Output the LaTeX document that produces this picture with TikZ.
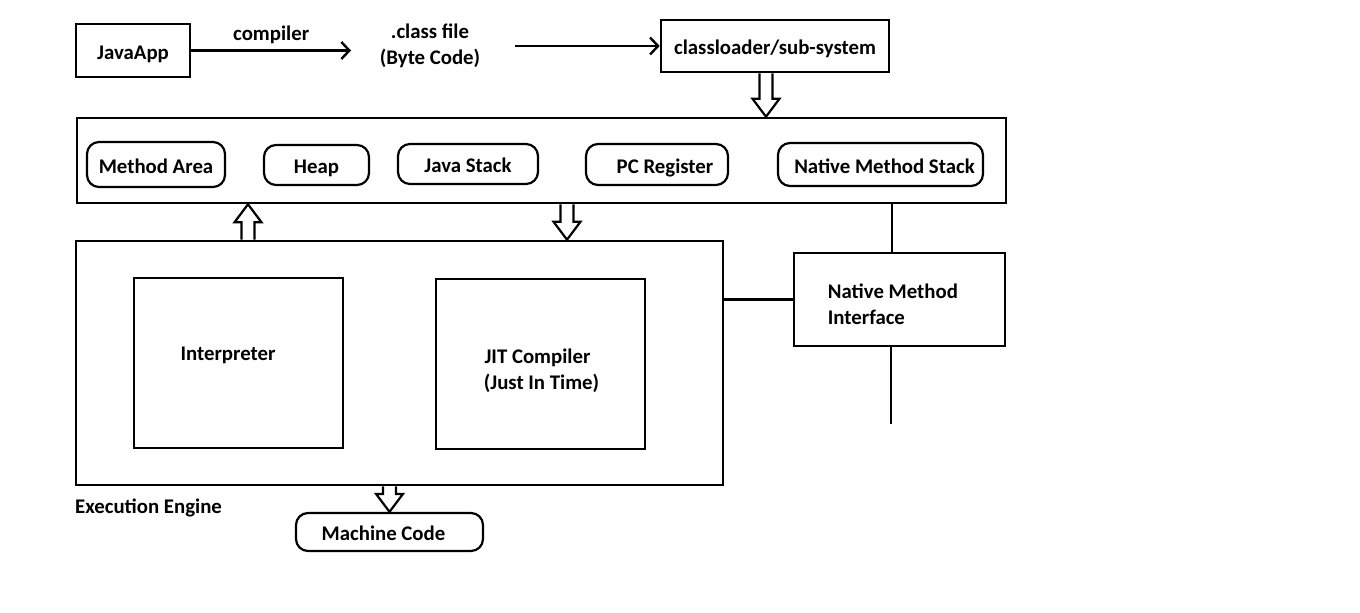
\documentclass[tikz,border=0pt]{standalone}
\usepackage{fontspec}
\setmainfont{Carlito}
\usetikzlibrary{arrows.meta, positioning, calc}

\newcommand{\diagfont}{\fontsize{20.8}{26}\selectfont\bfseries}
% hollow block arrow between two points on one vertical line
\newcommand{\fatarrow}[2]{%
  \draw[line width=2.2pt, line join=miter]
    let \p1=#1, \p2=#2, \n1={ifthenelse(\y2>\y1,1,-1)} in
    (\x1-6.5pt,\y1) -- (\x1-6.5pt,\y2-\n1*18pt) -- (\x1-13.5pt,\y2-\n1*18pt)
    -- (\x2,\y2) -- (\x1+13.5pt,\y2-\n1*18pt) -- (\x1+6.5pt,\y2-\n1*18pt)
    -- (\x1+6.5pt,\y1);}

\tikzset{
  txt/.style={text height=19pt, text depth=1.6pt},
  jvmbox/.style={draw, line width=2.6pt, inner sep=0pt, align=center, font=\diagfont, txt},
  membox/.style={draw, line width=2.2pt, rounded corners=12pt, inner sep=0pt, font=\diagfont, txt},
  lbl/.style={inner sep=0pt, align=center, font=\diagfont},
  link/.style={line width=2.6pt},
  flow/.style={line width=2.6pt, -{Straight Barb[length=8pt, width=17pt, line width=2.4pt]}},
}

\begin{document}
\begin{tikzpicture}[x=1pt, y=-1pt]
  \useasboundingbox (0,0) rectangle (1360,613);

  % top row
  \node[jvmbox, minimum width=114, minimum height=53] (javaapp) at (133,50.5) {JavaApp};
  \node[lbl] (classfile) at (430,46) {.class file\\ (Byte Code)};
  \node[jvmbox, minimum width=228, minimum height=52] (loader) at (775,46) {classloader/sub-system};
  \coordinate (bcin) at (351,50.5);
  \coordinate (bcout) at (515,46);
  \draw[flow] (javaapp.east) -- node[lbl, txt, above=7pt] (comp) {compiler} (bcin);
  \draw[flow] (bcout) -- (loader.west);

  % runtime data areas
  \node[jvmbox, minimum width=929, minimum height=85] (mem) at (541.5,160.5) {};
  \node[membox, minimum width=138, minimum height=45] (method) at (156,164.5) {Method Area};
  \node[membox, minimum width=105, minimum height=40] (heap) at (316.5,165) {Heap};
  \node[membox, minimum width=140, minimum height=40] (jstack) at (468,164) {Java Stack};
  \node[membox, minimum width=142, minimum height=41,
        label={[lbl, txt, xshift=8pt]center:PC Register}] (pcreg) at (657,164.5) {};
  \node[membox, minimum width=205, minimum height=43,
        label={[lbl, txt, xshift=4pt]center:Native Method Stack}] (nstack) at (880.5,164.5) {};

  % execution engine
  \node[jvmbox, minimum width=647, minimum height=244] (exec) at (399.5,363) {};
  \node[jvmbox, minimum width=209, minimum height=170,
        label={[lbl, txt, xshift=-10.5pt, yshift=11pt]center:Interpreter}] (interp) at (238.5,363) {};
  \node[jvmbox, minimum width=209, minimum height=170,
        label={[lbl, xshift=-3pt, yshift=-7pt]center:JIT Compiler\\ \hspace{8pt}(Just In Time)}] (jit) at (540.5,364) {};
  \node[lbl, txt, anchor=west] (execlbl) at (75,505) {Execution Engine};
  \node[membox, minimum width=187, minimum height=38,
        label={[lbl, txt, xshift=-6pt]center:Machine Code}] (machine) at (389.5,532) {};

  % native method interface
  \node[jvmbox, minimum width=211, minimum height=93,
        label={[lbl, align=left, anchor=west, xshift=35pt, yshift=-4.5pt]west:Native Method\\ Interface}] (nmi) at (899.5,299.5) {};
  \coordinate (nm) at (892,0);
  \coordinate (nmend) at (891,424);
  \draw[link] (nm |- mem.south) -- (nm |- nmi.north);
  \draw[link] (nmend |- nmi.south) -- (nmend);
  \draw[link] (nmi.west -| exec.east) -- (nmi.west);

  % block arrows
  \coordinate (ld) at (766,0);
  \coordinate (up) at (248,0);
  \coordinate (dn) at (567,0);
  \fatarrow{(ld |- loader.south)}{(ld |- mem.north)}
  \fatarrow{(up |- exec.north)}{(up |- mem.south)}
  \fatarrow{(dn |- mem.south)}{(dn |- exec.north)}
  \fatarrow{(exec.south -| machine.north)}{(machine.north)}
\end{tikzpicture}
\end{document}
